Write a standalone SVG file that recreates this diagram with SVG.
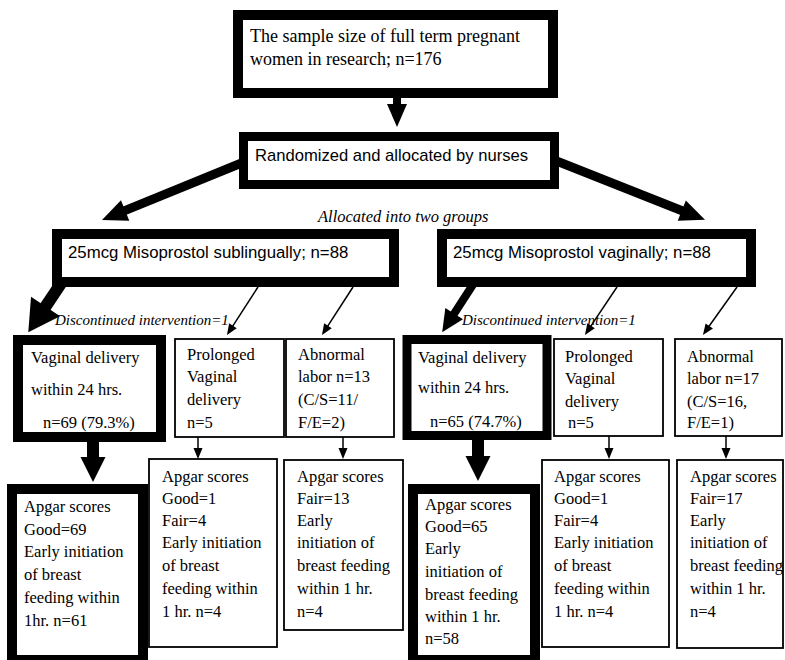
<svg xmlns="http://www.w3.org/2000/svg" width="785" height="660" viewBox="0 0 785 660">
<style>
.thick{fill:#fff;stroke:#000;stroke-width:10}
.thin{fill:#fff;stroke:#000;stroke-width:1.8}
.serif{font-family:"Liberation Serif","Times New Roman",serif;font-size:16.5px;fill:#000}
.big{font-size:18px}
.sans{font-family:"Liberation Sans",Arial,sans-serif;font-size:16.6px;fill:#000}
.grp{font-size:16.8px}
.ital{font-family:"Liberation Serif","Times New Roman",serif;font-style:italic;fill:#000}
.ln{stroke:#000;fill:none}
</style>
<defs>
<marker id="hBig" markerUnits="userSpaceOnUse" orient="auto" refX="0" refY="0" markerWidth="30" markerHeight="30" overflow="visible"><path d="M-1,-11 L24,0 L-1,11 z" fill="#000"/></marker>
<marker id="hL" markerUnits="userSpaceOnUse" orient="auto" refX="0" refY="0" markerWidth="40" markerHeight="40" overflow="visible"><path d="M-1,-17.5 L30,0 L-1,17.5 z" fill="#000"/></marker>
<marker id="hR" markerUnits="userSpaceOnUse" orient="auto" refX="0" refY="0" markerWidth="30" markerHeight="30" overflow="visible"><path d="M-1,-10.5 L21,0 L-1,10.5 z" fill="#000"/></marker>
<marker id="hDown" markerUnits="userSpaceOnUse" orient="auto" refX="0" refY="0" markerWidth="30" markerHeight="30" overflow="visible"><path d="M-1,-12.5 L24,0 L-1,12.5 z" fill="#000"/></marker>
<marker id="hTop" markerUnits="userSpaceOnUse" orient="auto" refX="0" refY="0" markerWidth="30" markerHeight="30" overflow="visible"><path d="M-1,-10 L22,0 L-1,10 z" fill="#000"/></marker>
<marker id="hThin" markerUnits="userSpaceOnUse" orient="auto" refX="0" refY="0" markerWidth="14" markerHeight="14" overflow="visible"><path d="M-1,-4.5 L10,0 L-1,4.5 z" fill="#000"/></marker>
</defs>

<g id="connectors">
<line class="ln" x1="397" y1="97" x2="397" y2="105" stroke-width="8" marker-end="url(#hTop)"/>
<line class="ln" x1="244" y1="162" x2="124.2" y2="210.9" stroke-width="9" marker-end="url(#hBig)"/>
<line class="ln" x1="554" y1="160" x2="682.7" y2="211" stroke-width="9" marker-end="url(#hBig)"/>
<line class="ln" x1="62" y1="282" x2="45" y2="307.3" stroke-width="12" marker-end="url(#hL)"/>
<line class="ln" x1="474" y1="283" x2="453.6" y2="314.5" stroke-width="8" marker-end="url(#hR)"/>
<line class="ln" x1="258" y1="287" x2="232.4" y2="326.6" stroke-width="1.5" marker-end="url(#hThin)"/>
<line class="ln" x1="353" y1="287" x2="327.4" y2="326.6" stroke-width="1.5" marker-end="url(#hThin)"/>
<line class="ln" x1="617" y1="287" x2="590.5" y2="326.7" stroke-width="1.5" marker-end="url(#hThin)"/>
<line class="ln" x1="737" y1="287" x2="708.7" y2="326.8" stroke-width="1.5" marker-end="url(#hThin)"/>
<line class="ln" x1="93" y1="440" x2="93" y2="458" stroke-width="12" marker-end="url(#hDown)"/>
<line class="ln" x1="478" y1="438" x2="478" y2="457" stroke-width="12" marker-end="url(#hDown)"/>
<line class="ln" x1="198" y1="437" x2="198" y2="449" stroke-width="1.5" marker-end="url(#hThin)"/>
<line class="ln" x1="343" y1="437" x2="343" y2="449" stroke-width="1.5" marker-end="url(#hThin)"/>
<line class="ln" x1="609" y1="436" x2="609" y2="449" stroke-width="1.5" marker-end="url(#hThin)"/>
<line class="ln" x1="726" y1="436" x2="726" y2="449" stroke-width="1.5" marker-end="url(#hThin)"/>
<text class="ital" x="318" y="222" font-size="16.5">Allocated into two groups</text>
<text class="ital" x="55" y="325" font-size="15">Discontinued intervention=1</text>
<text class="ital" x="462" y="325" font-size="15">Discontinued intervention=1</text>
</g>

<g id="sample">
<rect class="thick" x="238" y="15" width="315" height="78"/>
<text class="serif big"><tspan x="250" y="42">The sample size of full term pregnant</tspan><tspan x="250" y="65">women in research; n=176</tspan></text>
</g>

<g id="randomized">
<rect class="thick" x="243.5" y="136.5" width="311" height="48" stroke-width="9" style="stroke-width:9"/>
<text class="sans" x="255" y="161">Randomized and allocated by nurses</text>
</g>

<g id="sublingual">
<rect class="thick" x="57" y="234" width="337" height="48"/>
<text class="sans grp" x="68" y="258">25mcg Misoprostol sublingually; n=88</text>
</g>

<g id="vaginal">
<rect class="thick" x="442" y="234" width="309" height="48"/>
<text class="sans grp" x="453" y="258">25mcg Misoprostol vaginally; n=88</text>
</g>

<g id="vd-left">
<rect class="thick" x="18" y="340" width="143" height="97"/>
<text class="serif"><tspan x="31" y="363">Vaginal delivery</tspan><tspan x="31" y="395">within 24 hrs.</tspan><tspan x="43" y="428">n=69 (79.3%)</tspan></text>
</g>

<g id="prolonged-left">
<rect class="thin" x="175" y="339" width="109" height="98"/>
<text class="serif"><tspan x="187" y="360">Prolonged</tspan><tspan x="187" y="382">Vaginal</tspan><tspan x="187" y="405">delivery</tspan><tspan x="187" y="428">n=5</tspan></text>
</g>

<g id="abnormal-left">
<rect class="thin" x="286" y="339" width="108" height="98"/>
<text class="serif"><tspan x="298" y="360">Abnormal</tspan><tspan x="298" y="382">labor n=13</tspan><tspan x="298" y="405">(C/S=11/</tspan><tspan x="298" y="428">F/E=2)</tspan></text>
</g>

<g id="vd-right">
<rect class="thick" x="407" y="339.5" width="140" height="96" style="stroke-width:9"/>
<text class="serif"><tspan x="418" y="363">Vaginal delivery</tspan><tspan x="418" y="393">within 24 hrs.</tspan><tspan x="430" y="427">n=65 (74.7%)</tspan></text>
</g>

<g id="prolonged-right">
<rect class="thin" x="554" y="339" width="109" height="97"/>
<text class="serif"><tspan x="565" y="362">Prolonged</tspan><tspan x="565" y="384">Vaginal</tspan><tspan x="565" y="407">delivery</tspan><tspan x="568" y="428">n=5</tspan></text>
</g>

<g id="abnormal-right">
<rect class="thin" x="675" y="339" width="107" height="97"/>
<text class="serif"><tspan x="687" y="362">Abnormal</tspan><tspan x="687" y="384">labor n=17</tspan><tspan x="687" y="407">(C/S=16,</tspan><tspan x="687" y="428">F/E=1)</tspan></text>
</g>

<g id="apgar-left-1">
<rect class="thick" x="12" y="489" width="131" height="171"/>
<text class="serif"><tspan x="24" y="512">Apgar scores</tspan><tspan x="24" y="535">Good=69</tspan><tspan x="24" y="557">Early initiation</tspan><tspan x="24" y="580">of breast</tspan><tspan x="24" y="603">feeding within</tspan><tspan x="24" y="626">1hr. n=61</tspan></text>
</g>

<g id="apgar-left-2">
<rect class="thin" x="149" y="459" width="128" height="188"/>
<text class="serif"><tspan x="162" y="482">Apgar scores</tspan><tspan x="162" y="504">Good=1</tspan><tspan x="162" y="526">Fair=4</tspan><tspan x="162" y="548">Early initiation</tspan><tspan x="162" y="571">of breast</tspan><tspan x="162" y="594">feeding within</tspan><tspan x="162" y="617">1 hr. n=4</tspan></text>
</g>

<g id="apgar-left-3">
<rect class="thin" x="284" y="460" width="119" height="170"/>
<text class="serif"><tspan x="297" y="482">Apgar scores</tspan><tspan x="297" y="504">Fair=13</tspan><tspan x="297" y="526">Early</tspan><tspan x="297" y="548">initiation of</tspan><tspan x="297" y="571">breast feeding</tspan><tspan x="297" y="594">within 1 hr.</tspan><tspan x="297" y="617">n=4</tspan></text>
</g>

<g id="apgar-right-1">
<rect class="thick" x="413" y="489" width="122" height="171"/>
<text class="serif"><tspan x="425" y="510">Apgar scores</tspan><tspan x="425" y="532">Good=65</tspan><tspan x="425" y="554">Early</tspan><tspan x="425" y="577">initiation of</tspan><tspan x="425" y="600">breast feeding</tspan><tspan x="425" y="622">within 1 hr.</tspan><tspan x="425" y="644">n=58</tspan></text>
</g>

<g id="apgar-right-2">
<rect class="thin" x="542" y="460" width="127" height="187"/>
<text class="serif"><tspan x="554" y="482">Apgar scores</tspan><tspan x="554" y="504">Good=1</tspan><tspan x="554" y="526">Fair=4</tspan><tspan x="554" y="548">Early initiation</tspan><tspan x="554" y="571">of breast</tspan><tspan x="554" y="594">feeding within</tspan><tspan x="554" y="617">1 hr. n=4</tspan></text>
</g>

<g id="apgar-right-3">
<rect class="thin" x="677" y="460" width="106" height="188"/>
<text class="serif"><tspan x="690" y="482">Apgar scores</tspan><tspan x="690" y="504">Fair=17</tspan><tspan x="690" y="526">Early</tspan><tspan x="690" y="548">initiation of</tspan><tspan x="690" y="571">breast feeding</tspan><tspan x="690" y="594">within 1 hr.</tspan><tspan x="690" y="617">n=4</tspan></text>
</g>
</svg>
